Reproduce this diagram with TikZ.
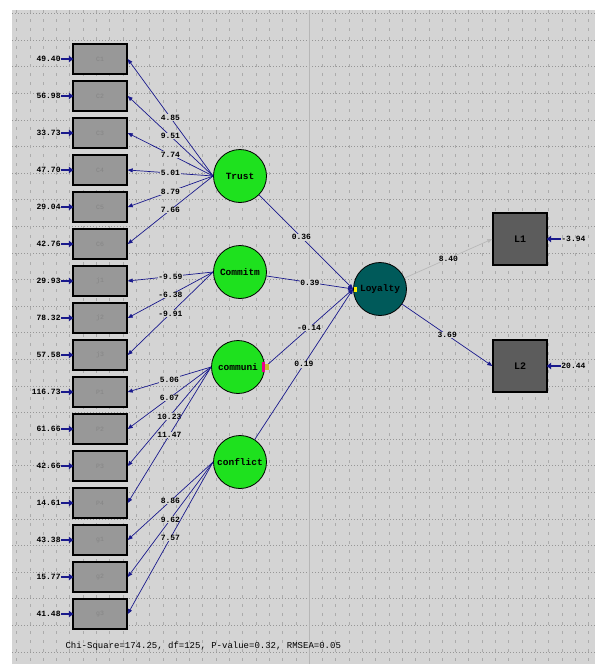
\documentclass[tikz,border=0pt]{standalone}
\usepackage{fontspec}
\newfontfamily\lsfont{Liberation Mono}
\usetikzlibrary{arrows.meta,positioning}
\definecolor{bggray}{RGB}{212,212,212}
\definecolor{gridgray}{RGB}{150,150,150}
\definecolor{boxgray}{RGB}{152,152,152}
\definecolor{darkbox}{RGB}{92,92,92}
\definecolor{latgreen}{RGB}{30,225,30}
\definecolor{loyteal}{RGB}{0,90,90}
\definecolor{pathblue}{RGB}{25,25,140}
\tikzset{
    obs/.style={draw=black, line width=1.4pt, fill=boxgray, minimum width=54pt, minimum height=30pt, inner sep=0pt, text=black!48, font=\lsfont\fontsize{6.5}{7}\selectfont},
    ind/.style={draw=black, line width=1.4pt, fill=darkbox, minimum width=54pt, minimum height=52pt, inner sep=0pt, font=\lsfont\bfseries\fontsize{10}{11}\selectfont},
    lat/.style={circle, draw=black, line width=0.8pt, fill=latgreen, minimum size=53pt, inner sep=0pt, font=\lsfont\bfseries\fontsize{9.5}{10}\selectfont},
    errnum/.style={inner sep=0.5pt, font=\lsfont\bfseries\fontsize{8}{9}\selectfont},
    coef/.style={fill=bggray, inner sep=0.6pt, font=\lsfont\bfseries\fontsize{8}{9}\selectfont},
    loadarr/.style={-{Triangle[length=5pt,width=4pt]}, draw=pathblue, line width=0.7pt},
    errarr/.style={-{Triangle[length=4.5pt,width=6.5pt]}, draw=pathblue, line width=2pt, shorten >=-1pt},
}
\begin{document}
\begin{tikzpicture}[x=1pt, y=-1pt]
    \useasboundingbox (0,0) rectangle (595,664);
    % background and grid
    \fill[bggray] (12,10) rectangle (595,664);
    \foreach \gy in {0,...,24}
        \draw[gridgray, dash pattern=on 1pt off 2pt, line width=0.4pt] (12,13.4+\gy*26.6) -- (595,13.4+\gy*26.6);
    \foreach \gx in {0,...,43}
        \draw[gridgray!80, dash pattern=on 3pt off 6pt, line width=0.4pt] (16.4+\gx*13.3,10) -- (16.4+\gx*13.3,664);
    \draw[gridgray!70, line width=0.7pt] (309,10) -- (309,664);

    % observed variables and their error variances
    \node[obs] (C1) at (100,59) {C1};   \node[errnum, left=11pt of C1] (eC1) {49.40};
    \node[obs] (C2) at (100,96) {C2};   \node[errnum, left=11pt of C2] (eC2) {56.98};
    \node[obs] (C3) at (100,133) {C3};  \node[errnum, left=11pt of C3] (eC3) {33.73};
    \node[obs] (C4) at (100,170) {C4};  \node[errnum, left=11pt of C4] (eC4) {47.70};
    \node[obs] (C5) at (100,207) {C5};  \node[errnum, left=11pt of C5] (eC5) {29.04};
    \node[obs] (C6) at (100,244) {C6};  \node[errnum, left=11pt of C6] (eC6) {42.76};
    \node[obs] (j1) at (100,281) {j1};  \node[errnum, left=11pt of j1] (ej1) {29.93};
    \node[obs] (j2) at (100,318) {j2};  \node[errnum, left=11pt of j2] (ej2) {78.32};
    \node[obs] (j3) at (100,355) {j3};  \node[errnum, left=11pt of j3] (ej3) {57.58};
    \node[obs] (P1) at (100,392) {P1};  \node[errnum, left=11pt of P1] (eP1) {116.73};
    \node[obs] (P2) at (100,429) {P2};  \node[errnum, left=11pt of P2] (eP2) {61.66};
    \node[obs] (P3) at (100,466) {P3};  \node[errnum, left=11pt of P3] (eP3) {42.66};
    \node[obs] (P4) at (100,503) {P4};  \node[errnum, left=11pt of P4] (eP4) {14.61};
    \node[obs] (g1) at (100,540) {g1};  \node[errnum, left=11pt of g1] (eg1) {43.38};
    \node[obs] (g2) at (100,577) {g2};  \node[errnum, left=11pt of g2] (eg2) {15.77};
    \node[obs] (g3) at (100,614) {g3};  \node[errnum, left=11pt of g3] (eg3) {41.48};
    \draw[errarr] (eC1) -- (C1);  \draw[errarr] (eC2) -- (C2);
    \draw[errarr] (eC3) -- (C3);  \draw[errarr] (eC4) -- (C4);
    \draw[errarr] (eC5) -- (C5);  \draw[errarr] (eC6) -- (C6);
    \draw[errarr] (ej1) -- (j1);  \draw[errarr] (ej2) -- (j2);
    \draw[errarr] (ej3) -- (j3);  \draw[errarr] (eP1) -- (P1);
    \draw[errarr] (eP2) -- (P2);  \draw[errarr] (eP3) -- (P3);
    \draw[errarr] (eP4) -- (P4);  \draw[errarr] (eg1) -- (g1);
    \draw[errarr] (eg2) -- (g2);  \draw[errarr] (eg3) -- (g3);

    % latent variables
    \node[lat] (Trust) at (240,176) {Trust};
    \node[lat] (Commit) at (240,272) {Commitm};
    \node[lat] (Commun) at (238,367) {communi};
    \node[lat] (Conflict) at (240,462) {conflict};
    \node[lat, fill=loyteal] (Loyalty) at (380,289) {Loyalty};
    \node[ind] (L1) at (520,239) {L1};
    \node[ind] (L2) at (520,366) {L2};
    \node[errnum, right=13pt of L1] (eL1) {-3.94};
    \node[errnum, right=13pt of L2] (eL2) {20.44};
    \draw[errarr] (eL1) -- (L1);
    \draw[errarr] (eL2) -- (L2);

    % loadings
    \draw[loadarr] (Trust.west) -- node[coef] {4.85} (C1.east);
    \draw[loadarr] (Trust.west) -- node[coef] {9.51} (C2.east);
    \draw[loadarr] (Trust.west) -- node[coef] {7.74} (C3.east);
    \draw[loadarr] (Trust.west) -- node[coef] {5.01} (C4.east);
    \draw[loadarr] (Trust.west) -- node[coef] {8.79} (C5.east);
    \draw[loadarr] (Trust.west) -- node[coef] {7.66} (C6.east);
    \draw[loadarr] (Commit.west) -- node[coef] {-9.59} (j1.east);
    \draw[loadarr] (Commit.west) -- node[coef] {-6.38} (j2.east);
    \draw[loadarr] (Commit.west) -- node[coef] {-9.91} (j3.east);
    \draw[loadarr] (Commun.west) -- node[coef] {5.06} (P1.east);
    \draw[loadarr] (Commun.west) -- node[coef] {6.07} (P2.east);
    \draw[loadarr] (Commun.west) -- node[coef] {10.23} (P3.east);
    \draw[loadarr] (Commun.west) -- node[coef] {11.47} (P4.east);
    \draw[loadarr] (Conflict.west) -- node[coef] {8.86} (g1.east);
    \draw[loadarr] (Conflict.west) -- node[coef] {9.62} (g2.east);
    \draw[loadarr] (Conflict.west) -- node[coef] {7.57} (g3.east);

    % structural paths
    \draw[loadarr] (Trust) -- node[coef, pos=0.45] {0.36} (Loyalty.west);
    \draw[loadarr] (Commit) -- node[coef] {0.39} (Loyalty.west);
    \draw[loadarr] (Commun.east) -- node[coef] {-0.14} (Loyalty.west);
    \draw[loadarr] (Conflict) -- node[coef] {0.19} (Loyalty.west);
    \draw[loadarr, draw=gray!55] (Loyalty) -- node[coef] {8.40} (L1.west);
    \draw[loadarr] (Loyalty) -- node[coef] {3.69} (L2.west);
    \fill[magenta] (262,362) rectangle (265,372);
    \fill[yellow!75!black] (265,364) rectangle (269,370);
    \fill[yellow] (354,287) rectangle (357,292);

    \node[anchor=west, font=\lsfont\fontsize{9}{10}\selectfont] (fitline) at (62,646) {Chi-Square=174.25, df=125, P-value=0.32, RMSEA=0.05};
\end{tikzpicture}
\end{document}
